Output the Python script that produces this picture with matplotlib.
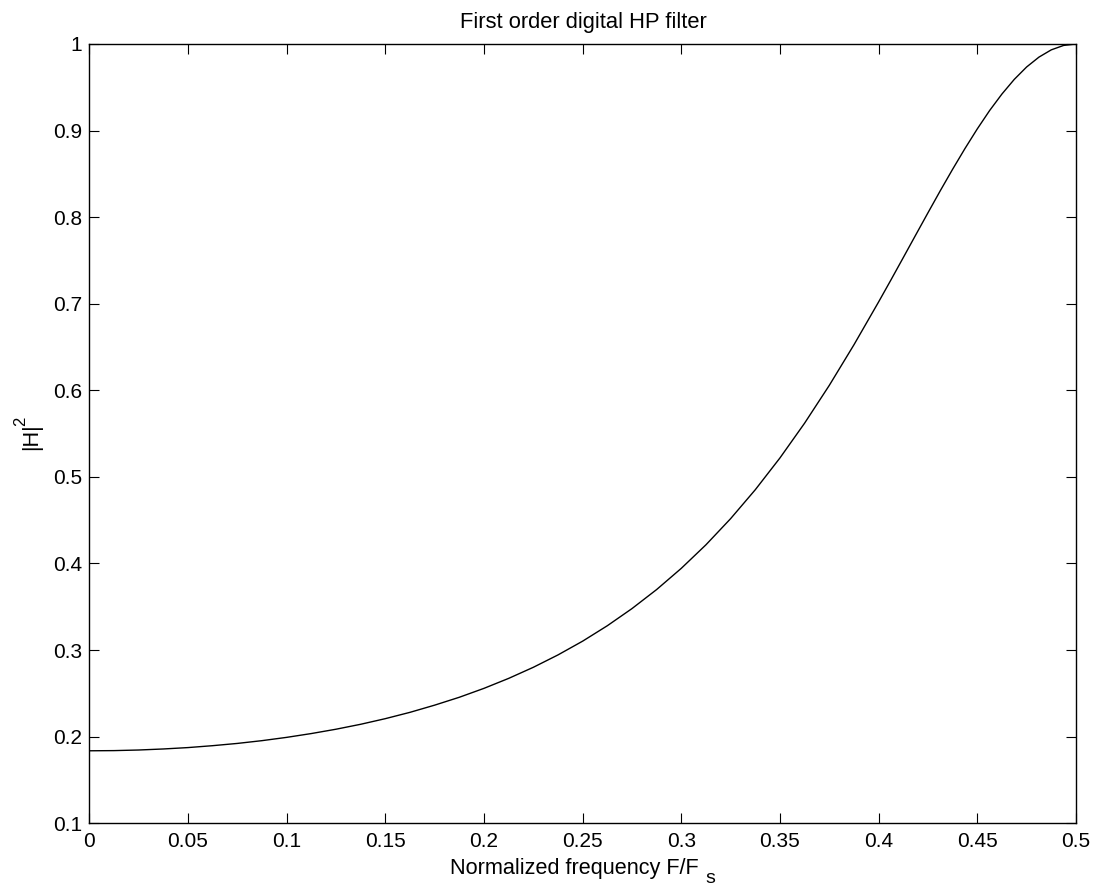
import matplotlib
matplotlib.use('Agg')
import matplotlib.pyplot as plt

# values (normalized frequency, |H|^2)
freq = [0.0, 0.0125, 0.025, 0.0375, 0.05, 0.0625, 0.075, 0.0875, 0.1, 0.1125,
        0.125, 0.1375, 0.15, 0.1625, 0.175, 0.1875, 0.2, 0.2125, 0.225, 0.2375,
        0.25, 0.2625, 0.275, 0.2875, 0.3, 0.3125, 0.325, 0.3375, 0.35, 0.3625,
        0.375, 0.3875, 0.4, 0.40625, 0.4125, 0.41875, 0.425, 0.43125, 0.4375, 0.44375,
        0.45, 0.45625, 0.4625, 0.46875, 0.475, 0.48125, 0.4875, 0.49375, 0.5]
mag2 = [0.1837, 0.1839, 0.1846, 0.1858, 0.1874, 0.1896, 0.1922, 0.1954, 0.1992, 0.2036,
        0.2086, 0.2143, 0.2208, 0.2281, 0.2364, 0.2455, 0.2558, 0.2673, 0.2801, 0.2944,
        0.3103, 0.3281, 0.3479, 0.3699, 0.3944, 0.4216, 0.4518, 0.4852, 0.5219, 0.5621,
        0.6057, 0.6526, 0.7021, 0.7275, 0.7533, 0.7792, 0.8050, 0.8305, 0.8553, 0.8792,
        0.9019, 0.9231, 0.9422, 0.9591, 0.9734, 0.9848, 0.9932, 0.9983, 1.0]

xticks = [0, 0.05, 0.1, 0.15, 0.2, 0.25, 0.3, 0.35, 0.4, 0.45, 0.5]
xticklabels = ['0', '0.05', '0.1', '0.15', '0.2', '0.25', '0.3', '0.35', '0.4', '0.45', '0.5']
yticks = [0.1, 0.2, 0.3, 0.4, 0.5, 0.6, 0.7, 0.8, 0.9, 1.0]
yticklabels = ['0.1', '0.2', '0.3', '0.4', '0.5', '0.6', '0.7', '0.8', '0.9', '1']

W, H = 1093, 888

def px(x, y):
    # pixel position (from top-left) -> figure fraction
    return x / W, 1 - y / H

plt.rcParams['font.family'] = ['Liberation Sans', 'DejaVu Sans']

fig = plt.figure(figsize=(W / 100, H / 100), dpi=100)
ax = fig.add_axes([0.0817, 0.0729, 0.9027, 0.8776])

ax.plot(freq, mag2, color='black', linewidth=1.0)

ax.set_xlim(0, 0.5)
ax.set_ylim(0.1, 1.0)
ax.set_xticks(xticks)
ax.set_xticklabels(xticklabels)
ax.set_yticks(yticks)
ax.set_yticklabels(yticklabels)
ax.tick_params(direction='in', length=7, width=0.8, labelsize=15,
               top=True, right=True)
ax.tick_params(axis='x', pad=6)
ax.tick_params(axis='y', pad=5)
for s in ax.spines.values():
    s.set_linewidth(1.0)

# title and axis labels, MATLAB style (full-size sub/superscripts)
fig.text(*px(583, 28.3), 'First order digital HP filter', fontsize=15.8,
         ha='center', va='baseline')
fig.text(*px(450, 874), 'Normalized frequency F/F', fontsize=15.6,
         ha='left', va='baseline')
fig.text(*px(705, 882.5), 's', fontsize=14, ha='left', va='baseline')
fig.text(*px(37.3, 450.5), '|H|', fontsize=15.6, rotation=90,
         rotation_mode='anchor', ha='left', va='baseline')
fig.text(*px(25, 425.5), '2', fontsize=12, rotation=90,
         rotation_mode='anchor', ha='left', va='baseline')

fig.savefig('out.png', dpi=100)
